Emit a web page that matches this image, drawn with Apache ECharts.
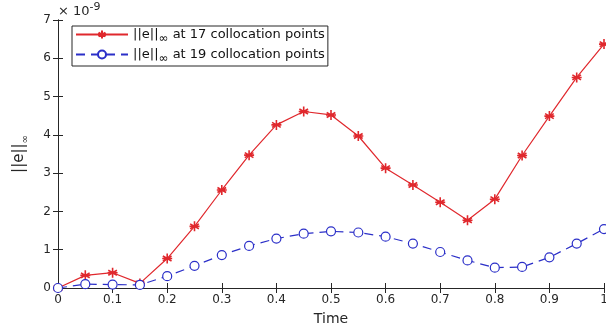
<!DOCTYPE html>
<html><head><meta charset="utf-8">
<script src="https://cdn.jsdelivr.net/npm/echarts@6/dist/echarts.min.js"></script>
<style>html,body{margin:0;padding:0;background:#fff}#c{width:606px;height:324px}</style>
</head><body><div id="c"></div>
<script>
const times = [0,0.05,0.1,0.15,0.2,0.25,0.3,0.35,0.4,0.45,0.5,0.55,0.6,0.65,0.7,0.75,0.8,0.85,0.9,0.95,1.0];
const err17 = [0,0.33,0.40,0.12,0.77,1.61,2.56,3.47,4.26,4.61,4.52,3.97,3.13,2.69,2.24,1.77,2.32,3.46,4.49,5.50,6.37];
const err19 = [0,0.10,0.09,0.08,0.31,0.58,0.86,1.10,1.29,1.42,1.48,1.45,1.34,1.16,0.94,0.72,0.53,0.55,0.80,1.16,1.54];
const xTicks = ['0','0.1','0.2','0.3','0.4','0.5','0.6','0.7','0.8','0.9','1'];
const yTicks = ['0','1','2','3','4','5','6','7'];
const names = {a:'||e||{sub|∞} at 17 collocation points', b:'||e||{sub|∞} at 19 collocation points'};

const ax = '#262626';
const font = 'DejaVu Sans, sans-serif';
const chart = echarts.init(document.getElementById('c'));
const asterisk = 'path://M0,-5L0,5M-4.33,-2.5L4.33,2.5M-4.33,2.5L4.33,-2.5M-5,0L5,0';
const commonX = {type:'value',min:0,max:1,interval:0.1,axisLine:{show:true,lineStyle:{color:ax,width:1}},
  axisTick:{show:true,inside:true,length:5,lineStyle:{color:ax}},splitLine:{show:false}};
const commonY = {type:'value',min:0,max:7,interval:1,axisLine:{show:true,lineStyle:{color:ax,width:1}},
  axisTick:{show:true,inside:true,length:5,lineStyle:{color:ax}},splitLine:{show:false}};
chart.setOption({
  animation:false,
  textStyle:{fontFamily:font},
  grid:{left:58,right:2,top:20,bottom:36,containLabel:false,outerBoundsMode:'none'},
  xAxis:[
    Object.assign({},commonX,{position:'bottom',
      axisLabel:{color:ax,fontSize:12,margin:6,fontFamily:font,formatter:v=>xTicks[Math.round(v*10)]},
      name:'Time',nameLocation:'middle',nameGap:24,nameTextStyle:{color:ax,fontSize:14,fontFamily:font}}),
    Object.assign({},commonX,{position:'top',axisLabel:{show:false}})
  ],
  yAxis:[
    Object.assign({},commonY,{position:'left',
      axisLabel:{color:ax,fontSize:12,margin:7,fontFamily:font,formatter:v=>yTicks[Math.round(v)]},
      name:'||e||{sub|∞}',nameLocation:'middle',nameGap:28,nameRotate:90,
      nameTextStyle:{color:ax,fontSize:15,fontFamily:font,rich:{sub:{fontSize:10,color:ax,fontFamily:font,padding:[12,0,0,0]}}}}),
    Object.assign({},commonY,{position:'right',axisLabel:{show:false}})
  ],
  legend:{
    left:72,top:26,orient:'vertical',
    data:['a','b'],
    formatter:n=>names[n],
    borderColor:ax,borderWidth:1,padding:[2,3,1,3],itemGap:3,
    itemWidth:52,itemHeight:10,
    textStyle:{color:'#111',fontSize:13,fontFamily:font,rich:{sub:{fontSize:12,color:'#111',fontFamily:font,padding:[9,0,0,0]}}}
  },
  graphic:[{type:'text',left:58,top:2,style:{text:'× 10{sup|-9}',fill:ax,font:'13px '+font,
    rich:{sup:{fontSize:11,fill:ax,fontFamily:font,padding:[0,0,8,0]}}}}],
  series:[
    {name:'a',type:'line',xAxisIndex:0,yAxisIndex:0,data:times.map((t,i)=>[t,err17[i]]),
      lineStyle:{color:'#e0282d',width:1.2},itemStyle:{color:'#e0282d',borderColor:'#e0282d',borderWidth:1.6},
      symbol:asterisk,symbolSize:10,showAllSymbol:true},
    {name:'b',type:'line',xAxisIndex:0,yAxisIndex:0,data:times.map((t,i)=>[t,err19[i]]),
      lineStyle:{color:'#2b2fc8',width:1.2,type:[9,6]},itemStyle:{color:'#fff',borderColor:'#2b2fc8',borderWidth:1.2},
      symbol:'circle',symbolSize:9,showAllSymbol:true}
  ]
});
</script></body></html>
